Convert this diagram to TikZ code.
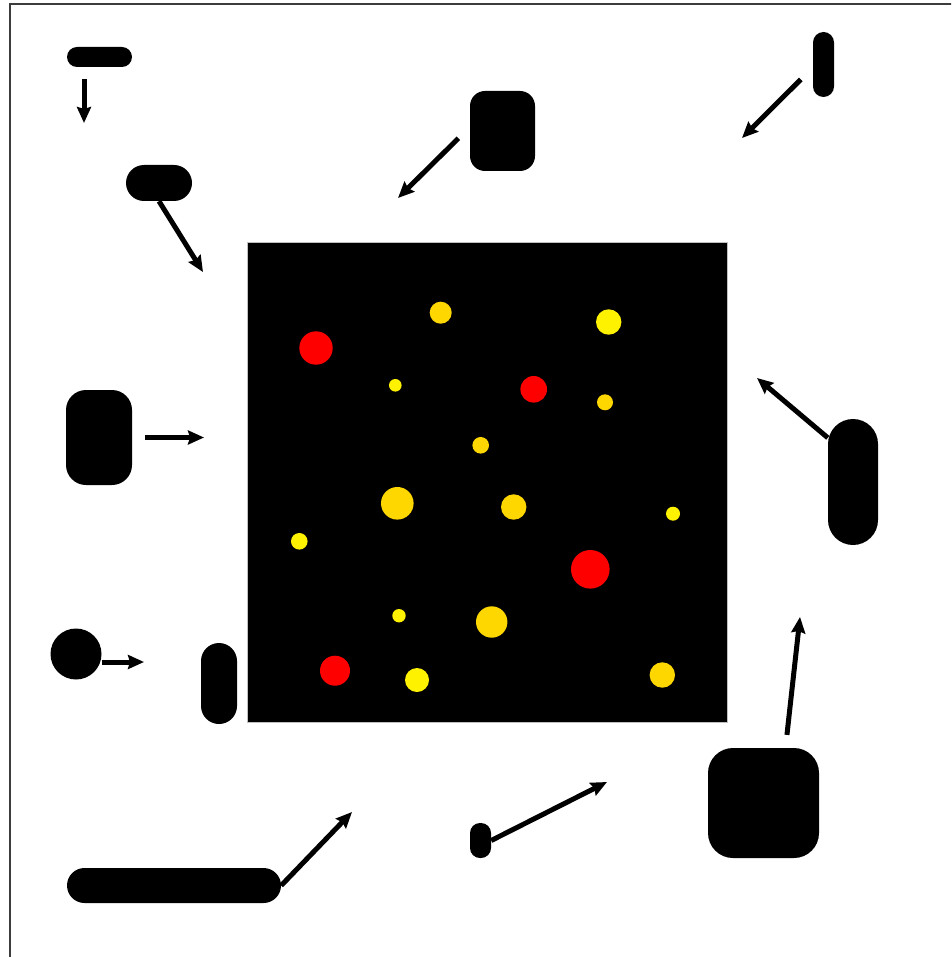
\documentclass[tikz,border=0pt]{standalone}
\usepackage{xcolor}
\usepackage{tikz}
\usetikzlibrary{positioning,arrows.meta,calc}

\definecolor{gold}{RGB}{255,215,0}
\definecolor{framegray}{RGB}{60,60,60}

\begin{document}
\begin{tikzpicture}[
    x=1pt,y=-1pt,
    blob/.style={fill=black,draw=none,inner sep=0pt},
    arr/.style={-{Stealth[length=16pt,width=14pt,inset=2pt]},line width=5pt},
  ]
    \useasboundingbox (0,0) rectangle (951,957);
    \clip (0,0) rectangle (951,957);
    \draw[framegray,line width=1.2pt] (10,4) rectangle (1000,1000);

    \node[blob,draw=black!25,line width=0.8pt,minimum width=480pt,minimum height=480pt] (field) at (487,482) {};

    \node[blob,minimum width=65pt,minimum height=20pt,rounded corners=10pt] (bar) at (99.5,57) {};
    \node[blob,minimum width=66pt,minimum height=36pt,rounded corners=18pt] (capsule) at (159,183) {};
    \node[blob,minimum width=65pt,minimum height=80pt,rounded corners=15pt] (tile) at (502.5,131) {};
    \node[blob,minimum width=21pt,minimum height=65pt,rounded corners=10.5pt] (stick) at (823.5,64.5) {};
    \node[blob,minimum width=66pt,minimum height=95pt,rounded corners=20pt] (block) at (99,437.5) {};
    \node[blob,minimum width=50pt,minimum height=126pt,rounded corners=25pt] (column) at (853,482) {};
    \node[blob,circle,minimum size=51pt] (ball) at (76,654) {};
    \node[blob,minimum width=36pt,minimum height=81pt,rounded corners=18pt] (post) at (219,683.5) {};
    \node[blob,minimum width=214pt,minimum height=35pt,rounded corners=17.5pt] (rail) at (174,885.5) {};
    \node[blob,minimum width=21pt,minimum height=35pt,rounded corners=10pt] (seed) at (480.5,840.5) {};
    \node[blob,minimum width=111pt,minimum height=110pt,rounded corners=25pt] (crate) at (763.5,803) {};

    \coordinate (barTip) at (84,123);
    \coordinate (capsuleTip) at (203,272);
    \coordinate (tileTip) at (398,198);
    \coordinate (stickTip) at (742,138);
    \coordinate (blockTip) at (204,437.5);
    \coordinate (columnTip) at (757,378);
    \coordinate (ballTip) at (144,662);
    \coordinate (railTip) at (352,812);
    \coordinate (seedTip) at (607,782);
    \coordinate (crateTip) at (800,617);

    \draw[arr,shorten <=12pt] (bar.south -| barTip) -- (barTip);
    \draw[arr] (capsule.south) -- (capsuleTip);
    \draw[arr,shorten <=16pt] ([yshift=4pt]tile.west) -- (tileTip);
    \draw[arr,shorten <=17pt] ([yshift=-3pt]stick.west) -- (stickTip);
    \draw[arr,shorten <=13pt] (block.east) -- (blockTip);
    \draw[arr] ([yshift=-19pt]column.north west) -- (columnTip);
    \draw[arr] ([yshift=-8pt]ball.east) -- (ballTip);
    \draw[arr] (rail.east) -- (railTip);
    \draw[arr] (seed.east) -- (seedTip);
    \draw[arr,shorten <=13pt] ([xshift=22pt]crate.north) -- (crateTip);

    \fill[red] (316,348) circle (16.7pt);
    \fill[gold] (440.7,312.7) circle (11pt);
    \fill[yellow] (608.7,322) circle (12.7pt);
    \fill[yellow] (395.3,385.3) circle (6.3pt);
    \fill[red] (533.7,389.3) circle (13.3pt);
    \fill[gold] (605,402.3) circle (8pt);
    \fill[gold] (480.7,445.3) circle (8.3pt);
    \fill[gold] (397.3,503.3) circle (16.3pt);
    \fill[gold] (513.7,507) circle (12.7pt);
    \fill[yellow] (673,513.7) circle (7pt);
    \fill[yellow] (299.3,541.3) circle (8.3pt);
    \fill[red] (590.3,569.3) circle (19.3pt);
    \fill[yellow] (399,615.7) circle (6.7pt);
    \fill[gold] (491.7,622) circle (15.7pt);
    \fill[red] (335,670.7) circle (15pt);
    \fill[yellow] (417,680) circle (12pt);
    \fill[gold] (662.3,675) circle (12.7pt);
  \end{tikzpicture}
\end{document}
